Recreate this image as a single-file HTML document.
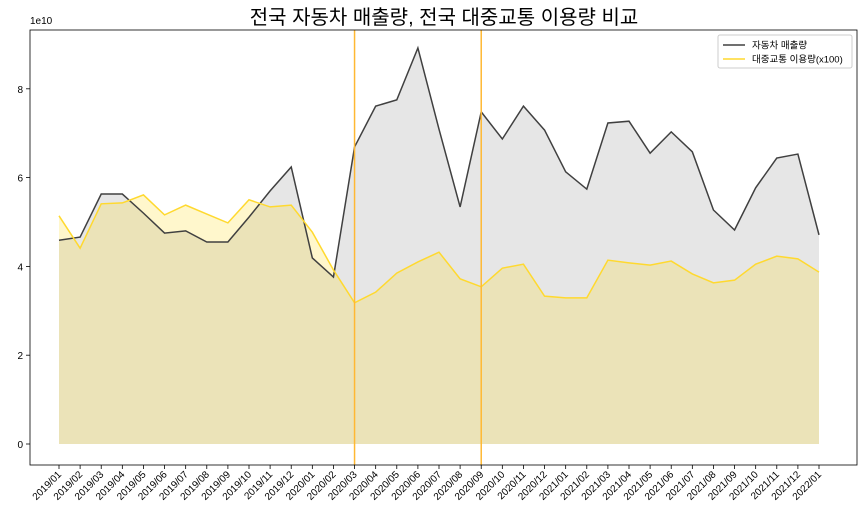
<!DOCTYPE html>
<html><head><meta charset="utf-8">
<style>
body{margin:0;background:#fff;}
svg text{font-family:"Liberation Sans","Noto Sans CJK KR",sans-serif;}
</style></head>
<body>
<svg id="chart" width="864" height="513" xmlns="http://www.w3.org/2000/svg">
<text x="444" y="24" font-size="20" text-anchor="middle" fill="#000">전국 자동차 매출량, 전국 대중교통 이용량 비교</text>
<g id="plot"></g>
</svg>
<script>
const categories=["2019/01","2019/02","2019/03","2019/04","2019/05","2019/06","2019/07","2019/08","2019/09","2019/10","2019/11","2019/12","2020/01","2020/02","2020/03","2020/04","2020/05","2020/06","2020/07","2020/08","2020/09","2020/10","2020/11","2020/12","2021/01","2021/02","2021/03","2021/04","2021/05","2021/06","2021/07","2021/08","2021/09","2021/10","2021/11","2021/12","2022/01"];
const carSales=[4.59,4.66,5.63,5.63,5.2,4.75,4.8,4.55,4.55,5.11,5.7,6.24,4.19,3.76,6.69,7.61,7.75,8.92,7.09,5.34,7.48,6.87,7.61,7.07,6.13,5.74,7.23,7.27,6.55,7.03,6.58,5.27,4.82,5.77,6.44,6.53,4.71];
const transit=[5.14,4.41,5.41,5.43,5.61,5.16,5.38,5.18,4.98,5.5,5.34,5.38,4.77,3.92,3.18,3.42,3.85,4.1,4.32,3.72,3.54,3.96,4.05,3.33,3.29,3.29,4.14,4.08,4.03,4.12,3.83,3.63,3.69,4.05,4.23,4.17,3.87];
const yTicks=[0,2,4,6,8];
const markers=["2020/03","2020/09"];
const NS="http://www.w3.org/2000/svg";
const g=document.getElementById('plot');
const L=30,R=857,T=30,B=465;
const xS=i=>59+i*(819-59)/(categories.length-1);
const yS=v=>444-v*44.4;
function mk(t,a){const e=document.createElementNS(NS,t);for(const k in a)e.setAttribute(k,a[k]);g.appendChild(e);return e;}
function pts(arr){return arr.map((v,i)=>xS(i)+','+yS(v)).join(' ');}
function area(arr){return xS(0)+','+yS(0)+' '+pts(arr)+' '+xS(arr.length-1)+','+yS(0);}
let e=mk('polygon',{points:area(carSales),fill:'#808080','fill-opacity':0.2});

e=mk('polygon',{points:area(transit),fill:'#FFD700','fill-opacity':0.2});

e=mk('polyline',{points:pts(carSales),fill:'none',stroke:'#404040','stroke-width':1.5});

e=mk('polyline',{points:pts(transit),fill:'none',stroke:'#FFD92F','stroke-width':1.5});

markers.forEach(m=>{const x=xS(categories.indexOf(m));
 const l=mk('line',{x1:x,x2:x,y1:T,y2:B,stroke:'#FFB833','stroke-width':1.5});
 });
e=mk('rect',{x:L,y:T,width:R-L,height:B-T,fill:'none',stroke:'#000','stroke-width':0.8});

yTicks.forEach(v=>{const y=yS(v);
 mk('line',{x1:L-4,x2:L,y1:y,y2:y,stroke:'#000','stroke-width':0.8});
 const t=mk('text',{x:L-7,y:y+4,'font-size':10,'text-anchor':'end'});t.textContent=v;
 });
e=mk('text',{x:L,y:T-6,'font-size':10});e.textContent='1e10';

categories.forEach((c,i)=>{const x=xS(i);
 mk('line',{x1:x,x2:x,y1:B,y2:B+4,stroke:'#000','stroke-width':0.8});
 const t=mk('text',{x:x+3,y:B+10,'font-size':10,'text-anchor':'end',transform:`rotate(-45 ${x+3} ${B+10})`});t.textContent=c;
 });
const lg=mk('rect',{x:718,y:35,width:134,height:33,fill:'#fff','fill-opacity':0.8,stroke:'#ccc',rx:2});

[['자동차 매출량','#404040'],['대중교통 이용량(x100)','#FFD92F']].forEach((d,i)=>{
 const y=45+i*14;
 const l=mk('line',{x1:723,x2:745,y1:y,y2:y,stroke:d[1],'stroke-width':1.5});
 
 const t=mk('text',{x:752,y:y+3.5,'font-size':9.5});t.textContent=d[0];
 });
</script>
</body></html>
